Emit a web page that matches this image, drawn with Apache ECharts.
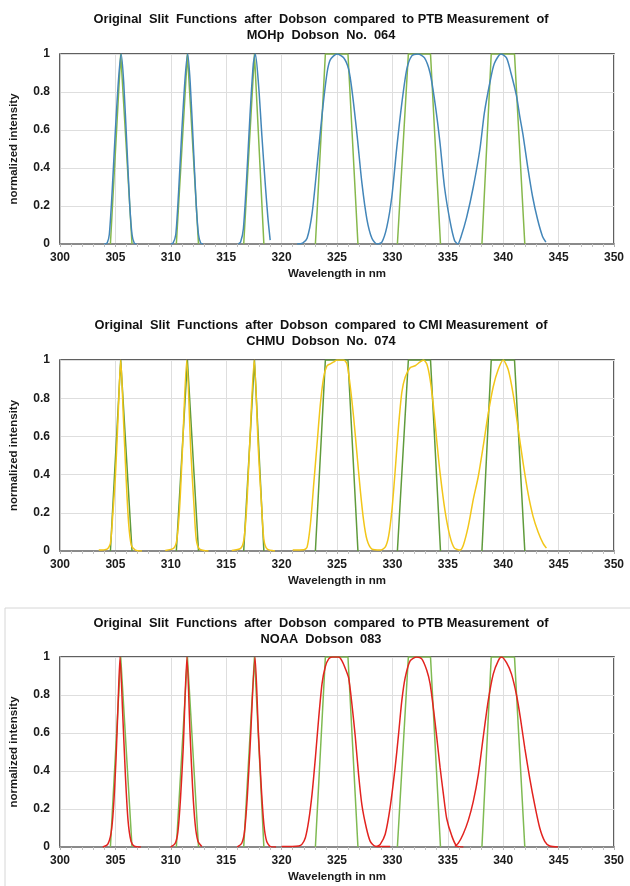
<!DOCTYPE html>
<head>
    <meta charset="utf-8">
    <title>Slit Functions</title>
    <script src="https://cdn.jsdelivr.net/npm/echarts@6/dist/echarts.min.js"></script>
    <style>
      html,body{ margin:0; padding:0; background:#fff; }
      #main{ width:630px; height:886px; }
    </style>
</head>
<body>
<div id="main"></div>
<script>
    // titles of the three panels
    var titles = [
        'Original  Slit  Functions  after  Dobson  compared  to PTB Measurement  of\nMOHp  Dobson  No.  064',
        'Original  Slit  Functions  after  Dobson  compared  to CMI Measurement  of\nCHMU  Dobson  No.  074',
        'Original  Slit  Functions  after  Dobson  compared  to PTB Measurement  of\nNOAA  Dobson  083'
    ];
    var xTicks = [300, 305, 310, 315, 320, 325, 330, 335, 340, 345, 350];
    var yTicks = [0, 0.2, 0.4, 0.6, 0.8, 1];

    // original slit functions after Dobson (same in all panels), one list per slit
    var dobson = [
        [[304.55, 0], [305.48, 1], [306.5, 0]],
        [[310.5, 0], [311.5, 1], [312.5, 0]],
        [[316.58, 0], [317.55, 1], [318.4, 0]],
        [[323.05, 0], [323.95, 1], [325.99, 1], [326.89, 0]],
        [[330.45, 0], [331.44, 1], [333.44, 1], [334.34, 0]],
        [[338.08, 0], [338.92, 1], [341.02, 1], [341.95, 0]]
    ];

    // MOHp Dobson 064, PTB measurement
    var mohp064 = [
        [[304.0, 0], [304.25, 0.005], [304.45, 0.05], [304.7, 0.27], [305.0, 0.6], [305.3, 0.88], [305.52, 1.0], [305.75, 0.85], [306.05, 0.5], [306.3, 0.2], [306.5, 0.05], [306.7, 0.005], [306.9, 0]],
        [[310.0, 0], [310.2, 0.005], [310.45, 0.05], [310.7, 0.27], [311.0, 0.6], [311.3, 0.88], [311.52, 1.0], [311.75, 0.85], [312.05, 0.5], [312.3, 0.2], [312.5, 0.05], [312.7, 0.005], [312.9, 0]],
        [[316.1, 0], [316.3, 0.01], [316.55, 0.08], [316.85, 0.35], [317.15, 0.68], [317.45, 0.95], [317.63, 1.0], [317.93, 0.83], [318.22, 0.57], [318.52, 0.32], [318.76, 0.14], [318.97, 0.02]],
        [[321.4, 0], [321.9, 0.005], [322.3, 0.03], [322.75, 0.16], [323.2, 0.41], [323.65, 0.68], [324.1, 0.9], [324.4, 0.97], [325.0, 1.0], [325.6, 0.98], [326.05, 0.92], [326.35, 0.81], [326.8, 0.58], [327.25, 0.32], [327.7, 0.13], [328.15, 0.03], [328.6, 0], [329.05, 0.01],
         [329.5, 0.09], [329.95, 0.25], [330.4, 0.51], [330.85, 0.74], [331.3, 0.92], [331.75, 0.99], [332.3, 1.0], [332.9, 0.98], [333.4, 0.9], [333.85, 0.74], [334.3, 0.53], [334.7, 0.3], [335.2, 0.12], [335.6, 0.02], [335.9, 0],
         [336.2, 0.04], [336.7, 0.14], [337.3, 0.3], [337.9, 0.5], [338.3, 0.69], [338.8, 0.85], [339.2, 0.95], [339.8, 1.0], [340.3, 0.98], [340.7, 0.9], [341.2, 0.78], [341.5, 0.67], [341.8, 0.57], [342.2, 0.41], [342.65, 0.25], [343.1, 0.13], [343.55, 0.04], [343.85, 0.01]]
    ];

    // CHMU Dobson 074, CMI measurement
    var chmu074 = [
        [[303.5, 0.005], [304.25, 0.01], [304.55, 0.04], [304.75, 0.18], [305.0, 0.39], [305.24, 0.7], [305.48, 1.0], [305.72, 0.7], [305.96, 0.39], [306.2, 0.14], [306.44, 0.03], [306.8, 0.005], [307.4, 0]],
        [[309.5, 0.003], [310.25, 0.014], [310.55, 0.06], [310.8, 0.23], [311.05, 0.53], [311.44, 1.0], [311.8, 0.53], [312.1, 0.23], [312.3, 0.06], [312.6, 0.01], [313.4, 0]],
        [[315.5, 0.003], [316.3, 0.014], [316.6, 0.06], [316.85, 0.23], [317.1, 0.53], [317.53, 1.0], [317.9, 0.53], [318.2, 0.23], [318.4, 0.06], [318.7, 0.01], [319.4, 0]],
        [[321.0, 0.005], [322.0, 0.006], [322.3, 0.02], [322.6, 0.14], [322.9, 0.35], [323.2, 0.56], [323.5, 0.77], [323.8, 0.91], [324.1, 0.97], [324.4, 0.98], [324.7, 0.99], [325.0, 1.0], [325.6, 1.0], [325.9, 0.98], [326.2, 0.86], [326.5, 0.7], [326.8, 0.51], [327.1, 0.32], [327.4, 0.16], [327.7, 0.06], [328.15, 0.01], [328.9, 0.005], [329.35, 0.02],
         [329.65, 0.075], [329.95, 0.21], [330.25, 0.42], [330.55, 0.65], [330.85, 0.83], [331.15, 0.91], [331.6, 0.96], [332.05, 0.97], [332.5, 0.99], [332.8, 1.0], [333.1, 0.98], [333.4, 0.9], [333.7, 0.76], [334.0, 0.58], [334.3, 0.41], [334.75, 0.21], [335.2, 0.075], [335.6, 0.015], [336.1, 0.005],
         [336.4, 0.03], [336.85, 0.13], [337.3, 0.27], [337.75, 0.39], [338.2, 0.55], [338.65, 0.72], [339.1, 0.86], [339.55, 0.95], [340.0, 1.0], [340.45, 0.95], [340.9, 0.82], [341.35, 0.64], [341.8, 0.46], [342.25, 0.3], [342.7, 0.18], [343.15, 0.1], [343.6, 0.04], [343.9, 0.015]]
    ];

    // NOAA Dobson 083, PTB measurement
    var noaa083 = [
        [[303.86, 0], [304.3, 0.014], [304.6, 0.07], [304.82, 0.2], [305.06, 0.47], [305.24, 0.75], [305.42, 1.0], [305.66, 0.7], [305.9, 0.38], [306.14, 0.14], [306.41, 0.03], [306.7, 0.005], [307.3, 0]],
        [[310.0, 0], [310.4, 0.02], [310.64, 0.08], [310.88, 0.26], [311.12, 0.52], [311.46, 1.0], [311.73, 0.61], [311.97, 0.31], [312.2, 0.12], [312.45, 0.03], [312.8, 0.002]],
        [[316.0, 0], [316.4, 0.02], [316.65, 0.08], [316.9, 0.26], [317.15, 0.52], [317.6, 1.0], [317.9, 0.61], [318.17, 0.31], [318.4, 0.12], [318.65, 0.03], [319.0, 0.002], [319.5, 0]],
        [[320.0, 0.002], [321.55, 0.005], [321.85, 0.015], [322.15, 0.05], [322.45, 0.14], [322.75, 0.28], [323.05, 0.47], [323.35, 0.68], [323.65, 0.86], [323.95, 0.95], [324.25, 0.99], [324.55, 1.0], [325.15, 1.0], [325.45, 0.98], [325.75, 0.94], [326.05, 0.89], [326.35, 0.75], [326.65, 0.58], [326.95, 0.38], [327.25, 0.22], [327.65, 0.1], [328.0, 0.03], [328.45, 0.004], [329.8, 0.002]],
        [[328.6, 0.002], [328.9, 0.014], [329.35, 0.067], [329.8, 0.21], [330.25, 0.42], [330.55, 0.59], [330.85, 0.77], [331.15, 0.89], [331.6, 0.98], [332.2, 1.0], [332.65, 0.99], [333.1, 0.93], [333.4, 0.86], [333.7, 0.73], [334.0, 0.58], [334.3, 0.42], [334.6, 0.28], [334.9, 0.15], [335.35, 0.06], [335.8, 0.005], [336.4, 0]],
        [[335.65, 0.003], [335.95, 0.02], [336.4, 0.07], [336.85, 0.14], [337.3, 0.24], [337.75, 0.38], [338.2, 0.58], [338.65, 0.77], [339.1, 0.91], [339.55, 0.98], [339.85, 1.0], [340.3, 0.97], [340.75, 0.91], [341.2, 0.8], [341.55, 0.68], [341.95, 0.52], [342.4, 0.36], [342.85, 0.22], [343.3, 0.1], [343.75, 0.03], [344.2, 0.005], [344.95, 0]]
    ];

    var measured = [mohp064, chmu074, noaa083];
    var measuredColors = ['#4386b9', '#f2c619', '#e2231f'];
    var dobsonColors = ['#86b84c', '#5f9b3b', '#7fba52'];

    var font = 'Arial, "Liberation Sans", sans-serif';
    var gridTops = [54, 360, 657];
    var gridHeights = [190, 191, 190];
    var titleTops = [11, 317, 615];

    var nameStyle = { color: '#1a1a1a', fontFamily: font, fontSize: 11.5, fontWeight: 'bold' };
    var labelStyle = { color: '#1a1a1a', fontFamily: font, fontSize: 12, fontWeight: 'bold' };

    var option = { backgroundColor: '#fff', animation: false, grid: [], xAxis: [], yAxis: [], series: [],
        graphic: [{
            type: 'rect', z: -1,
            shape: { x: 5, y: 608, width: 640, height: 300 },
            style: { fill: 'none', stroke: '#d6d6d6', lineWidth: 1 }
        }]
    };

    for (var i = 0; i < 3; i++) {
        // panel title, both lines centred on the same point
        option.graphic.push({
            type: 'text', x: 321, y: titleTops[i],
            style: {
                text: titles[i], align: 'center', verticalAlign: 'top', lineHeight: 16,
                fill: '#111', font: 'bold 12.8px ' + font
            }
        });
        option.grid.push({
            left: 56, width: 558, top: gridTops[i], height: gridHeights[i],
            show: true, borderColor: '#2b2b2b', borderWidth: 1.5, backgroundColor: 'transparent'
        });
        option.xAxis.push({
            type: 'value', gridIndex: i, min: xTicks[0], max: xTicks[xTicks.length - 1], interval: 5,
            name: 'Wavelength in nm', nameLocation: 'middle', nameGap: 24, nameTextStyle: nameStyle,
            axisLine: { show: true, lineStyle: { color: '#8a8a8a', width: 2 } },
            axisTick: { show: true, length: 3, lineStyle: { color: '#b0b0b0' } },
            minorTick: { show: true, splitNumber: 5, length: 3, lineStyle: { color: '#c0c0c0' } },
            axisLabel: Object.assign({ margin: 8 }, labelStyle),
            splitLine: { show: true, lineStyle: { color: '#dedede', width: 1 } }
        });
        option.yAxis.push({
            type: 'value', gridIndex: i, min: yTicks[0], max: yTicks[yTicks.length - 1], interval: 0.2,
            name: 'normalized intensity', nameLocation: 'middle', nameGap: 40, nameTextStyle: nameStyle,
            axisLine: { show: true, lineStyle: { color: '#c8c8c8', width: 1 } },
            axisTick: { show: false },
            axisLabel: Object.assign({ margin: 10 }, labelStyle),
            splitLine: { show: true, lineStyle: { color: '#dedede', width: 1 } }
        });
        for (var d = 0; d < dobson.length; d++) {
            option.series.push({
                type: 'line', xAxisIndex: i, yAxisIndex: i, data: dobson[d], symbol: 'none',
                lineStyle: { color: dobsonColors[i], width: 1.5 }, z: 2
            });
        }
        var segs = measured[i];
        for (var s = 0; s < segs.length; s++) {
            option.series.push({
                type: 'line', xAxisIndex: i, yAxisIndex: i, data: segs[s], symbol: 'none', smooth: 0.25,
                lineStyle: { color: measuredColors[i], width: 1.5 }, z: 3
            });
        }
    }

    var myChart = echarts.init(document.getElementById('main'));
    myChart.setOption(option);
    window.onresize = function () {
        myChart.resize();
    };
</script>
</body>
